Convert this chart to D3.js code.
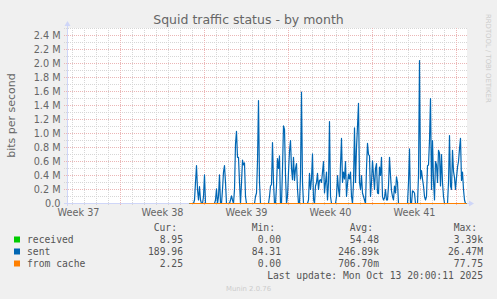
<!DOCTYPE html>
<html>
  <head>
    <meta charset="UTF-8" />
    <script src="https://d3js.org/d3.v7.min.js"></script>
    <title>Squid traffic status - by month</title>
    <style>
      body { margin: 0; background: #f0f0f0; }
      svg { display: block; }
    </style>
  </head>
  <body>
    <div id="chart"></div>
    <script type="text/javascript">
      // Tidsrum for grafen (UTC), 2 timer pr. maaling
      const periodStart = new Date(Date.UTC(2025, 8, 10, 14));
      const periodEnd = new Date(Date.UTC(2025, 9, 13, 22));
      const sampleStart = new Date(Date.UTC(2025, 8, 20, 18));
      const sampleHours = 2;

      // sent, i Mbit/s, aflaest fra billedet
      const sentMbps = [
        0, 0, 0, 0, 0, 0.05, 0.3, 0.54, 0.2, 0.05,
        0.24, 0.05, 0, 0, 0.1, 0.41, 0, 0, 0, 0,
        0, 0, 0, 0, 0, 0, 0.05, 0.21, 0, 0.1,
        0.41, 0, 0, 0.2, 0.45, 0.54, 0.3, 0, 0, 0,
        0, 0.05, 0.11, 0.05, 0, 0.2, 0.85, 1.03, 0.66, 0.66,
        0.3, 0, 0.3, 0.62, 0.55, 0.58, 0.1, 0, 0, 0,
        0, 0, 0, 0, 0, 0, 0.1, 0.15, 0.6, 1.47,
        0.3, 0, 0, 0, 0, 0, 0, 0, 0, 0,
        0.1, 0.25, 0.27, 0.87, 0.3, 0, 0, 0.25, 0.64, 0.5,
        0.68, 0, 0, 0.5, 1.11, 1.06, 0.4, 0, 0.1, 0.45,
        0.75, 0.9, 0.5, 0.34, 0.66, 0.33, 0.5, 0.57, 0.2, 0,
        0, 0.4, 1.59, 0.3, 0, 0, 0, 0, 0, 0.05,
        0.43, 0.2, 0.35, 0.71, 0.06, 0, 0.25, 0.3, 0.43, 0.2,
        0.33, 0.34, 0.3, 0.45, 0.6, 0.15, 0.3, 0.45, 0.05, 0.3,
        1.17, 0.1, 0, 0, 0, 0, 0, 0.1, 0.4, 0.2,
        0.1, 0.55, 0.93, 0.3, 0.45, 0.35, 0.6, 0.1, 0.28, 0.42,
        0.35, 0.45, 0.1, 0, 0.3, 1.08, 0.3, 0.8, 1.1, 1.43,
        0.3, 0.2, 0.4, 0.15, 0.1, 0.05, 0, 0.5, 0.86, 0.7,
        0.68, 0.1, 0.3, 0.61, 0.4, 0.2, 0.5, 0.57, 0.15, 0.14,
        0.52, 0.4, 0.66, 0.1, 0.05, 0.08, 0.2, 0.05, 0.05, 0.25,
        0.66, 0.4, 0.18, 0.1, 0.05, 0.25, 0.15, 0.38, 0.3, 0,
        0, 0, 0, 0, 0, 0, 0, 0, 0, 0.3,
        0.78, 0, 0, 0.18, 0.17, 0.15, 0, 0, 0, 0.4,
        2.04, 0.35, 0.47, 0.35, 0.25, 0.1, 0.05, 0.1, 0.54, 0.55,
        0.9, 1.5, 0.2, 0.9, 0.33, 0.05, 0.6, 0.55, 0.3, 0.76,
        0.72, 0.25, 0.7, 0.3, 0.1, 0, 0, 0, 0, 0.3,
        0.97, 0.25, 0.2, 0.76, 0.46, 0.37, 0.2, 0.37, 0.52, 0.6,
        0.78, 0.93, 0.33, 0.45, 0.2, 0.05, 0, 0,
      ];
      // received og from cache er kun nogle faa bit/s -> ligger paa 0
      const receivedMbps = [0, 0];
      const fromCacheMbps = [0, 0];

      const yTicks = [0, 0.2, 0.4, 0.6, 0.8, 1.0, 1.2, 1.4, 1.6, 1.8, 2.0, 2.2, 2.4];
      const yTickLabels = ["0.0", "0.2 M", "0.4 M", "0.6 M", "0.8 M", "1.0 M", "1.2 M",
        "1.4 M", "1.6 M", "1.8 M", "2.0 M", "2.2 M", "2.4 M"];
      const weekLabels = ["Week 37", "Week 38", "Week 39", "Week 40", "Week 41"];

      const legendNames = ["received", "sent", "from cache"];
      const legendCur = ["8.95", "189.96", "2.25"];
      const legendMin = ["0.00", "84.31", "0.00"];
      const legendAvg = ["54.48", "246.89k", "706.70m"];
      const legendMax = ["3.39k", "26.47M", "77.75"];
      const seriesColors = ["#00cc00", "#0066b3", "#ff8000"];

      const w = 497;
      const h = 299;
      const padL = 67, padR = 467, padT = 28, padB = 203;
      const fontSans = "'DejaVu Sans', sans-serif";
      const fontMono = "'DejaVu Sans Mono', monospace";
      const textColor = "#666";
      const minorColor = "#d6d6d6";
      const majorColor = "#ebb6b6";

      const xScale = d3.scaleUtc().domain([periodStart, periodEnd]).range([padL, padR]);
      const yScale = d3.scaleLinear().domain([0, 2.5]).range([padB, padT]);

      const svg = d3.select("#chart").append("svg").attr("width", w).attr("height", h);

      svg.append("rect").attr("width", w).attr("height", h).attr("fill", "#f0f0f0");
      svg.append("rect")
        .attr("x", padL).attr("y", padT)
        .attr("width", padR - padL).attr("height", padB - padT)
        .attr("fill", "#fff");

      // Gitter: dage (graa) og uger (roed)
      const days = d3.utcDay.range(d3.utcDay.ceil(periodStart), periodEnd);
      const weeks = d3.utcMonday.range(periodStart, periodEnd);
      const grid = svg.append("g");
      grid.selectAll(".vminor")
        .data(days.filter((d) => d3.utcMonday.floor(d) < d))
        .enter().append("line")
        .attr("x1", (d) => Math.round(xScale(d)) + 0.5)
        .attr("x2", (d) => Math.round(xScale(d)) + 0.5)
        .attr("y1", padT).attr("y2", padB + 2)
        .attr("stroke", minorColor).attr("stroke-dasharray", "1,1");
      const minorY = d3.range(0, 26).map((i) => i / 10).filter((v) => Math.round(v * 10) % 2 === 1 || v === 2.5);
      grid.selectAll(".hminor")
        .data(minorY)
        .enter().append("line")
        .attr("x1", padL - 3).attr("x2", padR)
        .attr("y1", (d) => Math.round(yScale(d)) + 0.5)
        .attr("y2", (d) => Math.round(yScale(d)) + 0.5)
        .attr("stroke", minorColor).attr("stroke-dasharray", "1,1");
      grid.selectAll(".vmajor")
        .data(weeks)
        .enter().append("line")
        .attr("x1", (d) => Math.round(xScale(d)) + 0.5)
        .attr("x2", (d) => Math.round(xScale(d)) + 0.5)
        .attr("y1", padT).attr("y2", padB + 3)
        .attr("stroke", majorColor).attr("stroke-dasharray", "1,1");
      grid.selectAll(".hmajor")
        .data(yTicks.slice(1))
        .enter().append("line")
        .attr("x1", padL - 3).attr("x2", padR)
        .attr("y1", (d) => Math.round(yScale(d)) + 0.5)
        .attr("y2", (d) => Math.round(yScale(d)) + 0.5)
        .attr("stroke", majorColor).attr("stroke-dasharray", "1,1");

      // Akser (lys blaa)
      const axisColor = "#cfd6f8";
      svg.append("line")
        .attr("x1", padL - 3).attr("x2", padR + 2)
        .attr("y1", padB + 0.5).attr("y2", padB + 0.5)
        .attr("stroke", axisColor);
      svg.append("line")
        .attr("x1", padL + 0.5).attr("x2", padL + 0.5)
        .attr("y1", padB + 3).attr("y2", padT - 2)
        .attr("stroke", axisColor);
      svg.append("path").attr("d", "M" + (padR + 2) + "," + (padB - 2.5) + "L" + (padR + 7) + "," + (padB + 0.5) + "L" + (padR + 2) + "," + (padB + 3.5) + "Z").attr("fill", axisColor);
      svg.append("path").attr("d", "M" + (padL - 2.5) + "," + (padT - 2) + "L" + (padL + 0.5) + "," + (padT - 7) + "L" + (padL + 3.5) + "," + (padT - 2) + "Z").attr("fill", axisColor);

      // Y-akse tekst
      const yAxis = svg.append("g")
        .attr("transform", "translate(" + padL + ",0)")
        .call(d3.axisLeft(yScale).tickValues(yTicks).tickSize(0).tickPadding(6.5)
          .tickFormat((d, i) => yTickLabels[i]));
      yAxis.select(".domain").remove();
      yAxis.selectAll("text").attr("font-family", fontSans).attr("font-size", "9.7px").attr("fill", textColor);

      // X-akse tekst, midt i hver uge
      const weekMids = d3.utcMonday.range(d3.utcMonday.floor(periodStart), periodEnd)
        .map((d) => d3.utcHour.offset(d, 84))
        .filter((d) => d > periodStart && d < periodEnd);
      const xAxis = svg.append("g")
        .attr("transform", "translate(0," + padB + ")")
        .call(d3.axisBottom(xScale).tickValues(weekMids).tickSize(0).tickPadding(6)
          .tickFormat((d, i) => weekLabels[i]));
      xAxis.select(".domain").remove();
      xAxis.selectAll("text").attr("font-family", fontSans).attr("font-size", "9.7px").attr("fill", textColor);

      // Linjer
      const sentData = sentMbps.map((v, i) => ({ t: d3.utcHour.offset(sampleStart, i * sampleHours), v: v }));
      const lastSample = d3.utcHour.offset(sampleStart, (sentMbps.length - 1) * sampleHours);
      const flatTimes = [sampleStart, lastSample];
      const line = d3.line().x((d) => xScale(d.t) + 0.5).y((d) => yScale(d.v) + 0.5);

      const series = [
        flatTimes.map((t, i) => ({ t: t, v: receivedMbps[i] })),
        sentData,
        flatTimes.map((t, i) => ({ t: t, v: fromCacheMbps[i] })),
      ];
      svg.selectAll(".series")
        .data(series)
        .enter().append("path")
        .attr("d", (d) => line(d))
        .attr("fill", "none")
        .attr("stroke", (d, i) => seriesColors[i])
        .attr("stroke-width", (d, i) => (i === 1 ? 1.2 : 1))
        .attr("stroke-linejoin", "round");

      // Titel og y-titel
      svg.append("text")
        .attr("x", 248.5).attr("y", 24)
        .attr("text-anchor", "middle")
        .attr("font-family", fontSans).attr("font-size", "12.5px").attr("fill", textColor)
        .text("Squid traffic status - by month");
      svg.append("text")
        .attr("transform", "translate(14.5," + (padT + padB) / 2 + ") rotate(-90)")
        .attr("text-anchor", "middle")
        .attr("font-family", fontSans).attr("font-size", "11px").attr("fill", textColor)
        .text("bits per second");
      svg.append("text")
        .attr("transform", "translate(486,14) rotate(90)")
        .attr("font-family", fontSans).attr("font-size", "6.9px").attr("fill", "#cccccc")
        .text("RRDTOOL / TOBI OETIKER");

      // Legende
      const legend = svg.append("g")
        .attr("font-family", fontMono).attr("font-size", "9.7px").attr("fill", "#555");
      const colRight = [183, 281, 379, 483];
      ["Cur:", "Min:", "Avg:", "Max:"].forEach((hd, j) => {
        legend.append("text").attr("x", colRight[j] - 6).attr("y", 231)
          .attr("text-anchor", "end").text(hd);
      });
      legendNames.forEach((name, i) => {
        const yb = 243 + i * 12;
        legend.append("rect")
          .attr("x", 14).attr("y", yb - 6.5).attr("width", 6).attr("height", 6)
          .attr("fill", seriesColors[i]);
        legend.append("text").attr("x", 27).attr("y", yb).text(name);
        [legendCur[i], legendMin[i], legendAvg[i], legendMax[i]].forEach((val, j) => {
          legend.append("text").attr("x", colRight[j]).attr("y", yb)
            .attr("text-anchor", "end").text(val);
        });
      });
      legend.append("text").attr("x", 483).attr("y", 279)
        .attr("text-anchor", "end").text("Last update: Mon Oct 13 20:00:11 2025");

      svg.append("text")
        .attr("x", 248.5).attr("y", 291)
        .attr("text-anchor", "middle")
        .attr("font-family", fontSans).attr("font-size", "6.9px").attr("fill", "#cccccc")
        .text("Munin 2.0.76");
    </script>
  </body>
</html>
